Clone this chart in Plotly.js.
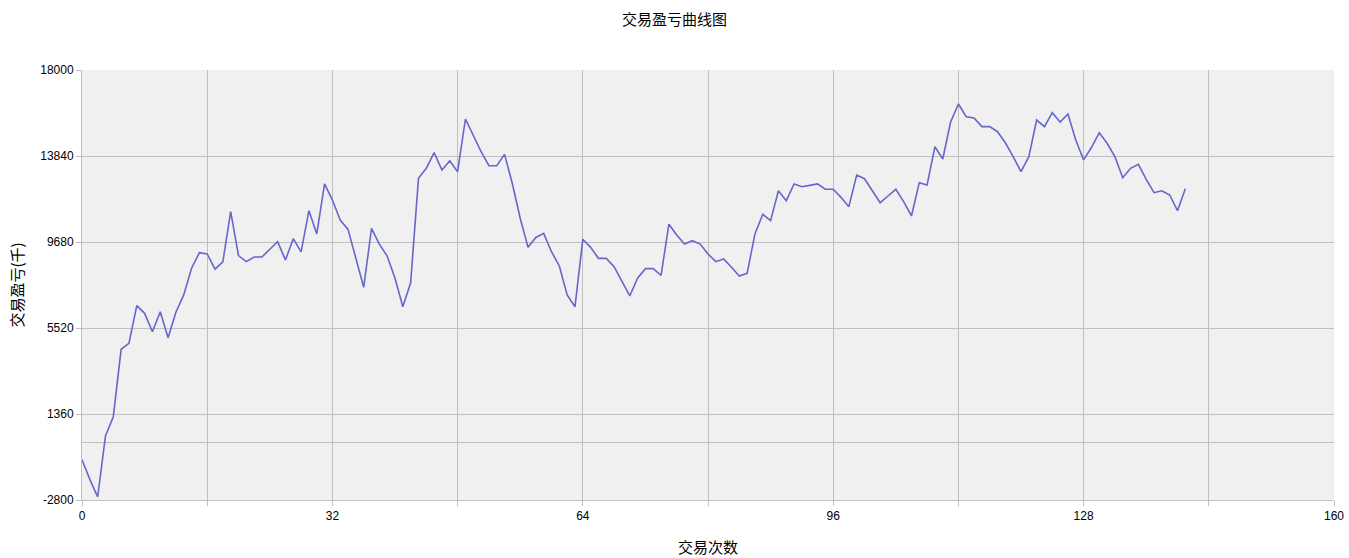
<!DOCTYPE html>
<html>
<head>
<meta charset="utf-8">
<script src="https://cdn.plot.ly/plotly-3.0.1.min.js"></script>
<style>html,body{margin:0;padding:0;background:#fff;}#chart{width:1349px;height:558px;}</style>
</head>
<body>
<div id="chart"></div>
<script>
const tradeIndex = Array.from({length: 142}, (_, i) => i);
const profit = [
  -850, -1800, -2650, 300, 1230, 4490, 4780, 6600, 6230, 5340,
  6310, 5050, 6280, 7120, 8410, 9160, 9100, 8370, 8720, 11150,
  9020, 8730, 8955, 8955, 9330, 9700, 8810, 9840, 9200, 11195,
  10070, 12490, 11710, 10745, 10290, 8850, 7490, 10340, 9580, 9000,
  7925, 6550, 7710, 12760, 13245, 14000, 13163, 13613, 13080, 15630,
  14808, 14050, 13370, 13370, 13920, 12500, 10830, 9420, 9900, 10100,
  9210, 8520, 7120, 6550, 9810, 9420, 8890, 8890, 8485, 7760,
  7070, 7925, 8390, 8390, 8060, 10540, 10020, 9580, 9745, 9580,
  9100, 8730, 8860, 8455, 8035, 8165, 10070, 11020, 10710, 12160,
  11680, 12490, 12355, 12420, 12490, 12230, 12230, 11840, 11390, 12920,
  12740, 12160, 11580, 11905, 12230, 11630, 10940, 12550, 12440, 14290,
  13695, 15480, 16355, 15740, 15680, 15260, 15260, 15015, 14480, 13810,
  13080, 13810, 15580, 15260, 15935, 15485, 15870, 14615, 13650, 14250,
  14970, 14455, 13810, 12790, 13245, 13440, 12713, 12065, 12160, 11955,
  11195, 12260
];
const xTickVals = [0, 16, 32, 48, 64, 80, 96, 112, 128, 144, 160];
const xTickText = ['0', '', '32', '', '64', '', '96', '', '128', '', '160'];
const yTickVals = [-2800, 1360, 5520, 9680, 13840, 18000];
const yTickText = ['-2800', '1360', '5520', '9680', '13840', '18000'];

const FONT = 'Liberation Sans, Arial, "Noto Sans CJK SC", sans-serif';
const CJK = '"Noto Sans CJK SC", sans-serif';
const GRID = '#c0c0c0';

Plotly.newPlot('chart', [{
  x: tradeIndex,
  y: profit,
  type: 'scatter',
  mode: 'lines',
  line: {color: '#6666cc', width: 1.6},
  hoverinfo: 'x+y'
}], {
  width: 1349, height: 558,
  margin: {l: 82, r: 15, t: 70, b: 58},
  paper_bgcolor: '#ffffff',
  plot_bgcolor: '#f0f0f0',
  font: {family: FONT, size: 12, color: '#000'},
  showlegend: false,
  title: {text: '交易盈亏曲线图', font: {family: CJK, size: 15, color: '#000'}, x: 0.5, xanchor: 'center', y: 0.965, yanchor: 'middle'},
  xaxis: {
    range: [0, 160],
    tickmode: 'array', tickvals: xTickVals, ticktext: xTickText,
    showgrid: true, gridcolor: GRID, gridwidth: 1,
    ticks: 'outside', ticklen: 5, tickcolor: GRID,
    showline: true, linecolor: GRID, linewidth: 1,
    zeroline: false,
    tickfont: {family: FONT, size: 12, color: '#000'},
    title: {text: '交易次数', font: {family: CJK, size: 15, color: '#000'}, standoff: 20}
  },
  yaxis: {
    range: [-2800, 18000],
    tickmode: 'array', tickvals: yTickVals, ticktext: yTickText,
    showgrid: true, gridcolor: GRID, gridwidth: 1,
    ticks: 'outside', ticklen: 5, tickcolor: GRID,
    showline: true, linecolor: GRID, linewidth: 1,
    zeroline: true, zerolinecolor: GRID, zerolinewidth: 1,
    tickfont: {family: FONT, size: 12, color: '#000'},
    title: {text: '交易盈亏(千)', font: {family: CJK, size: 15, color: '#000'}, standoff: 12}
  }
}, {displayModeBar: false, staticPlot: true});
</script>
</body>
</html>
